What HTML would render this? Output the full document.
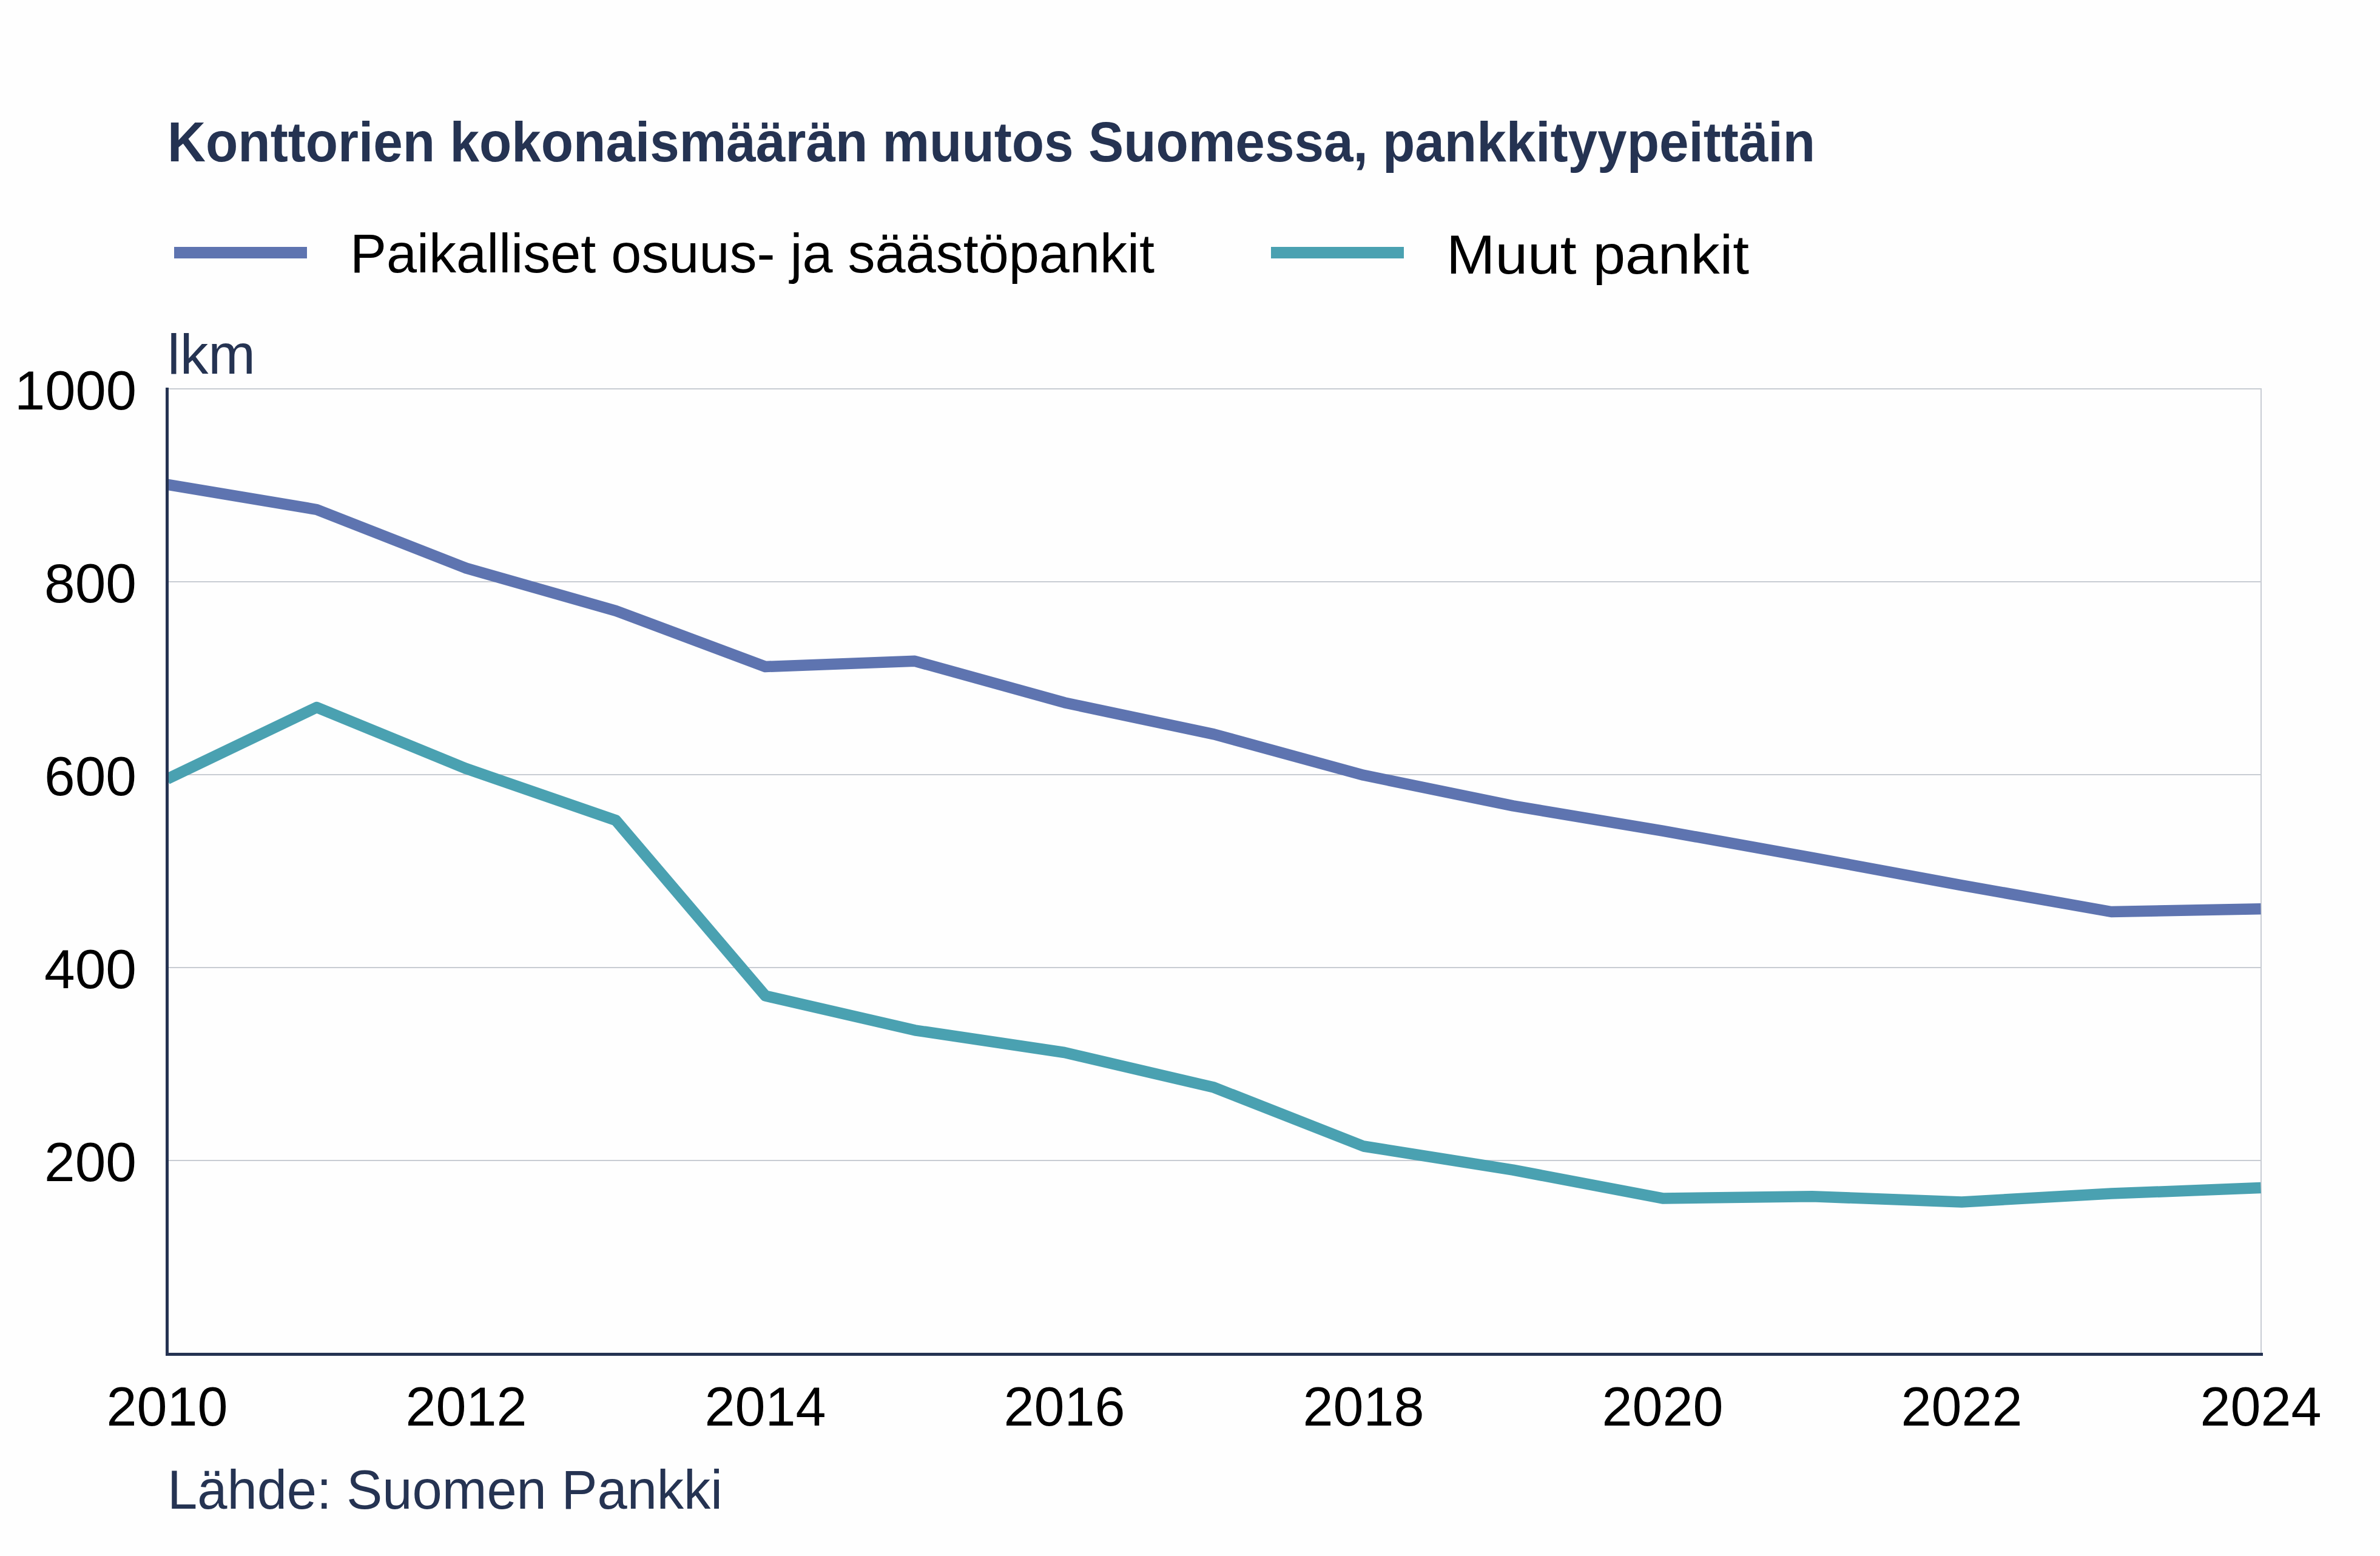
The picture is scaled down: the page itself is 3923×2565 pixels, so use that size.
<!DOCTYPE html><html><head><meta charset="utf-8"><style>html,body{margin:0;padding:0;background:#fff;}svg{display:block;}text{font-family:"Liberation Sans",sans-serif;}</style></head><body>
<svg width="3923" height="2565" viewBox="0 0 3923 2565">
<rect x="0" y="0" width="3923" height="2565" fill="#fefefe"/>
<text x="276.0" y="265.5" font-size="93.0" font-weight="bold" fill="#253352" textLength="2716.0" lengthAdjust="spacingAndGlyphs" text-anchor="start">Konttorien kokonaismäärän muutos Suomessa, pankkityypeittäin</text>
<rect x="287" y="407" width="219" height="19" fill="#5e74b0"/>
<text x="577.0" y="449.0" font-size="91.0" font-weight="normal" fill="#000" textLength="1326.0" lengthAdjust="spacingAndGlyphs" text-anchor="start">Paikalliset osuus- ja säästöpankit</text>
<rect x="2095" y="407" width="219" height="19" fill="#4aa1b1"/>
<text x="2384.0" y="450.5" font-size="91.0" font-weight="normal" fill="#000" textLength="499.0" lengthAdjust="spacingAndGlyphs" text-anchor="start">Muut pankit</text>
<text x="276.0" y="615.5" font-size="93.0" font-weight="normal" fill="#253352" textLength="145.0" lengthAdjust="spacingAndGlyphs" text-anchor="start">lkm</text>
<rect x="278" y="640.0" width="3450" height="2" fill="#c8ccd3"/>
<rect x="278" y="958.0" width="3450" height="2" fill="#c8ccd3"/>
<rect x="278" y="1276.0" width="3450" height="2" fill="#c8ccd3"/>
<rect x="278" y="1594.0" width="3450" height="2" fill="#c8ccd3"/>
<rect x="278" y="1912.0" width="3450" height="2" fill="#c8ccd3"/>
<rect x="3726" y="640" width="2" height="1590" fill="#c8ccd3"/>
<defs><clipPath id="c"><rect x="278" y="600" width="3449" height="1630"/></clipPath></defs>
<g clip-path="url(#c)" fill="none" stroke-width="18.5" stroke-linejoin="round" stroke-linecap="butt">
<polyline points="275.5,798.6 522.0,840.0 768.5,936.7 1015.0,1006.8 1261.5,1099.0 1508.0,1089.8 1754.5,1158.2 2001.0,1210.4 2247.5,1277.8 2494.0,1328.4 2740.5,1369.6 2987.0,1413.8 3233.5,1459.4 3480.0,1503.0 3726.5,1498.3" stroke="#5e74b0"/>
<polyline points="275.5,1284.2 522.0,1166.0 768.5,1267.1 1015.0,1352.3 1261.5,1641.5 1508.0,1698.3 1754.5,1735.0 2001.0,1792.6 2247.5,1889.5 2494.0,1928.6 2740.5,1975.4 2987.0,1972.3 3233.5,1981.4 3480.0,1967.6 3726.5,1958.0" stroke="#4aa1b1"/>
</g>
<rect x="273" y="639" width="5" height="1596" fill="#253352"/>
<rect x="273" y="2230" width="3457" height="5" fill="#253352"/>
<text x="225.0" y="674.5" font-size="91.0" fill="#000" textLength="201.0" lengthAdjust="spacingAndGlyphs" text-anchor="end">1000</text>
<text x="225.0" y="992.5" font-size="91.0" fill="#000" textLength="152.0" lengthAdjust="spacingAndGlyphs" text-anchor="end">800</text>
<text x="225.0" y="1310.5" font-size="91.0" fill="#000" textLength="152.0" lengthAdjust="spacingAndGlyphs" text-anchor="end">600</text>
<text x="225.0" y="1628.5" font-size="91.0" fill="#000" textLength="152.0" lengthAdjust="spacingAndGlyphs" text-anchor="end">400</text>
<text x="225.0" y="1946.5" font-size="91.0" fill="#000" textLength="152.0" lengthAdjust="spacingAndGlyphs" text-anchor="end">200</text>
<text x="275.5" y="2350.0" font-size="91.0" fill="#000" textLength="200.0" lengthAdjust="spacingAndGlyphs" text-anchor="middle">2010</text>
<text x="768.5" y="2350.0" font-size="91.0" fill="#000" textLength="200.0" lengthAdjust="spacingAndGlyphs" text-anchor="middle">2012</text>
<text x="1261.5" y="2350.0" font-size="91.0" fill="#000" textLength="200.0" lengthAdjust="spacingAndGlyphs" text-anchor="middle">2014</text>
<text x="1754.5" y="2350.0" font-size="91.0" fill="#000" textLength="200.0" lengthAdjust="spacingAndGlyphs" text-anchor="middle">2016</text>
<text x="2247.5" y="2350.0" font-size="91.0" fill="#000" textLength="200.0" lengthAdjust="spacingAndGlyphs" text-anchor="middle">2018</text>
<text x="2740.5" y="2350.0" font-size="91.0" fill="#000" textLength="200.0" lengthAdjust="spacingAndGlyphs" text-anchor="middle">2020</text>
<text x="3233.5" y="2350.0" font-size="91.0" fill="#000" textLength="200.0" lengthAdjust="spacingAndGlyphs" text-anchor="middle">2022</text>
<text x="3726.5" y="2350.0" font-size="91.0" fill="#000" textLength="200.0" lengthAdjust="spacingAndGlyphs" text-anchor="middle">2024</text>
<text x="276.0" y="2487.0" font-size="91.0" font-weight="normal" fill="#253352" textLength="915.0" lengthAdjust="spacingAndGlyphs" text-anchor="start">Lähde: Suomen Pankki</text>
</svg></body></html>
